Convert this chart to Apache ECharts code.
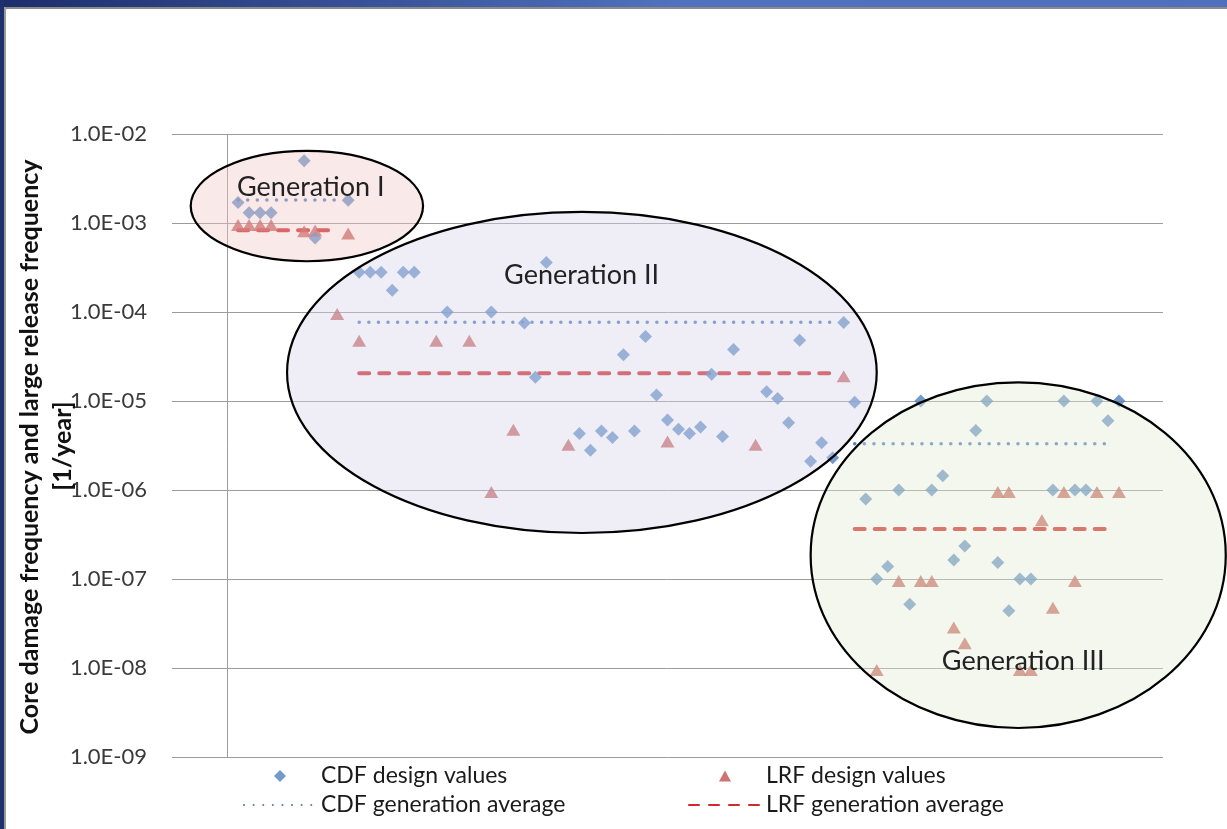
<!DOCTYPE html>
<html>
<head>
<meta charset="utf-8">
<script src="https://cdn.jsdelivr.net/npm/echarts@6/dist/echarts.min.js"></script>
<style>
  html, body { margin: 0; padding: 0; background: #ffffff; }
  #chart { width: 1227px; height: 829px; }
</style>
</head>
<body>
<div id="chart"></div>
<script>
// Reactor design index (horizontal position) and design values in 1/year
const cdfIndex = [1, 2, 3, 4, 7, 8, 11,
  12, 13, 14, 15, 16, 17, 20, 24, 27, 28, 29, 32, 33, 34, 35, 36, 37, 38, 39, 40,
  41, 42, 43, 44, 45, 46, 49, 50, 51, 52, 53, 54, 55, 56, 57, 58,
  59, 60, 61, 62, 63, 64, 65, 66, 67, 68, 69, 70, 71, 72, 73, 75, 76, 77, 78, 79, 80, 81];
const cdfValues = [1.7e-3, 1.3e-3, 1.3e-3, 1.3e-3, 5.0e-3, 6.8e-4, 1.8e-3,
  2.8e-4, 2.8e-4, 2.8e-4, 1.75e-4, 2.8e-4, 2.8e-4, 1.0e-4, 1.0e-4, 7.5e-5, 1.85e-5, 3.6e-4,
  4.3e-6, 2.8e-6, 4.6e-6, 3.9e-6, 3.3e-5, 4.6e-6, 5.3e-5, 1.17e-5, 6.1e-6,
  4.8e-6, 4.3e-6, 5.1e-6, 2.0e-5, 4.0e-6, 3.8e-5, 1.27e-5, 1.07e-5, 5.7e-6, 4.8e-5,
  2.1e-6, 3.4e-6, 2.3e-6, 7.6e-5, 9.7e-6, 7.9e-7,
  1.0e-7, 1.38e-7, 1.0e-6, 5.2e-8, 1.0e-5, 1.0e-6, 1.45e-6, 1.63e-7, 2.35e-7, 4.65e-6,
  1.0e-5, 1.53e-7, 4.4e-8, 1.0e-7, 1.0e-7, 1.0e-6, 1.0e-5, 1.0e-6, 1.0e-6, 1.0e-5, 6.0e-6, 1.0e-5];

const lrfIndex = [1, 2, 3, 4, 7, 8, 10, 11,
  12, 19, 22, 24, 26, 31, 40, 48, 56,
  59, 61, 63, 64, 66, 67, 70, 71, 72, 73, 74, 75, 76, 77, 79, 81];
const lrfValues = [1.0e-3, 1.0e-3, 1.0e-3, 1.0e-3, 8.5e-4, 8.7e-4, 1.0e-4, 8.0e-4,
  5.0e-5, 5.0e-5, 5.0e-5, 1.0e-6, 5.0e-6, 3.4e-6, 3.7e-6, 3.4e-6, 2.0e-5,
  1.0e-8, 1.0e-7, 1.0e-7, 1.0e-7, 3.0e-8, 2.0e-8, 1.0e-6, 1.0e-6, 1.0e-8, 1.0e-8,
  4.8e-7, 5.0e-8, 1.0e-6, 1.0e-7, 1.0e-6, 1.0e-6];

// Generation averages and the index span each average line covers
const generations = ['Generation I', 'Generation II', 'Generation III'];
const avgFrom = [1, 12, 57];
const avgTo = [10, 55, 80];
const cdfAverage = [1.81e-3, 7.65e-5, 3.3e-6];
const lrfAverage = [8.3e-4, 2.05e-5, 3.65e-7];

const yTickLabels = ['1.0E-09', '1.0E-08', '1.0E-07', '1.0E-06', '1.0E-05', '1.0E-04', '1.0E-03', '1.0E-02'];

const FONT = 'Lato, "Liberation Sans", sans-serif';
const BLUE = '#4f81bd';
const RED = '#c0504d';
const RED_LINE = '#d02a2c';

const zip = (xs, ys) => xs.map((x, i) => [x, ys[i]]);

const averageSeries = [];
generations.forEach((g, i) => {
  averageSeries.push({
    name: 'CDF generation average', type: 'line', silent: true, symbol: 'none', z: 2,
    data: [[avgFrom[i], cdfAverage[i]], [avgTo[i], cdfAverage[i]]],
    itemStyle: { color: BLUE },
    lineStyle: { color: BLUE, width: 3.5, type: [0.1, 9.5], cap: 'round' }
  });
  averageSeries.push({
    name: 'LRF generation average', type: 'line', silent: true, symbol: 'none', z: 2,
    data: [[avgFrom[i], lrfAverage[i]], [avgTo[i], lrfAverage[i]]],
    itemStyle: { color: RED_LINE },
    lineStyle: { color: RED_LINE, width: 4, type: [10, 10], cap: 'round' }
  });
});

// Legend keys: a small marker centred in the same 72px slot used by the line keys
const diamondKey = 'path://M0,0L0,0M72,14L72,14M36,0.5L42.5,7L36,13.5L29.5,7Z';
const triangleKey = 'path://M0,0L0,0M72,14L72,14M36,1L42.5,13L29.5,13Z';

const legendText = { fontFamily: FONT, fontSize: 23, color: '#1a1a1a', lineHeight: 24 };
const hiddenMarker = { opacity: 0 };

const option = {
  animation: false,
  backgroundColor: '#ffffff',
  grid: { left: 172, right: 64, top: 134, bottom: 72 },
  xAxis: { type: 'value', min: -5, max: 85, show: false },
  yAxis: {
    type: 'log', logBase: 10, min: 1e-9, max: 1e-2, interval: 1,
    axisLine: { show: false }, axisTick: { show: false },
    splitLine: { show: true, lineStyle: { color: '#9c9c9c', width: 1 } },
    axisLabel: {
      margin: 25, fontFamily: FONT, fontSize: 22, color: '#3a3a3a',
      formatter: v => yTickLabels[Math.round(Math.log10(v)) + 9]
    }
  },
  legend: [
    {
      data: [{ name: 'CDF design values', icon: diamondKey }, { name: 'CDF generation average', itemStyle: hiddenMarker }],
      orient: 'vertical', left: 238, top: 759, itemWidth: 72, itemHeight: 13, itemGap: 5,
      selectedMode: false, textStyle: legendText
    },
    {
      data: [{ name: 'LRF design values', icon: triangleKey }, { name: 'LRF generation average', itemStyle: hiddenMarker }],
      orient: 'vertical', left: 683, top: 759, itemWidth: 72, itemHeight: 13, itemGap: 5,
      selectedMode: false, textStyle: legendText
    }
  ],
  series: [
    ...averageSeries,
    {
      name: 'CDF design values', type: 'scatter', symbol: 'diamond', symbolSize: 13, z: 4,
      itemStyle: { color: BLUE },
      data: zip(cdfIndex, cdfValues),
      markLine: {
        silent: true, symbol: 'none', label: { show: false },
        lineStyle: { color: '#9c9c9c', type: 'solid', width: 1 },
        data: [{ xAxis: 0 }]
      }
    },
    {
      name: 'LRF design values', type: 'scatter', symbol: 'triangle', symbolSize: [14, 12],
      symbolOffset: [0, 2], z: 3,
      itemStyle: { color: RED },
      data: zip(lrfIndex, lrfValues)
    }
  ]
};

const chart = echarts.init(document.getElementById('chart'));
chart.setOption(option);

// Translucent ellipses grouping each generation, placed in data space
const regionSpecs = [
  { x: [-3.3, 17.8], logY: [-2.19, -3.43], fill: 'rgba(240,196,196,0.38)', text: [7.6, -2.596] },
  { x: [5.45, 59.0], logY: [-2.876, -6.483], fill: 'rgba(214,212,234,0.40)', text: [32.2, -3.584] },
  { x: [53.0, 90.7], logY: [-4.79, -8.674], fill: 'rgba(228,234,210,0.40)', text: [72.3, -7.921] }
];
const toPx = (x, lg) => chart.convertToPixel({ gridIndex: 0 }, [x, Math.pow(10, lg)]);

const graphics = [];
regionSpecs.forEach((r) => {
  const a = toPx(r.x[0], r.logY[0]);
  const b = toPx(r.x[1], r.logY[1]);
  graphics.push({
    type: 'ellipse', z: 20, silent: true,
    shape: { cx: (a[0] + b[0]) / 2, cy: (a[1] + b[1]) / 2, rx: Math.abs(b[0] - a[0]) / 2, ry: Math.abs(b[1] - a[1]) / 2 },
    style: { fill: r.fill, stroke: '#000000', lineWidth: 2.2 }
  });
});
regionSpecs.forEach((r, i) => {
  const p = toPx(r.text[0], r.text[1]);
  graphics.push({
    type: 'text', z: 30, silent: true, x: p[0], y: p[1],
    style: { text: generations[i], font: '27px ' + FONT, fill: '#222222', align: 'center', verticalAlign: 'middle' }
  });
});

// Axis title, two lines reading upwards
graphics.push({
  type: 'text', z: 30, silent: true, x: 30, y: 447, rotation: Math.PI / 2,
  style: { text: 'Core damage frequency and large release frequency', font: 'bold 25px ' + FONT, fill: '#111111', align: 'center', verticalAlign: 'middle' }
});
graphics.push({
  type: 'text', z: 30, silent: true, x: 63, y: 446, rotation: Math.PI / 2,
  style: { text: '[1/year]', font: 'bold 25px ' + FONT, fill: '#111111', align: 'center', verticalAlign: 'middle' }
});

// Window frame: gradient title strip and left edge
graphics.push({
  type: 'rect', z: 40, silent: true, shape: { x: 0, y: 0, width: 1227, height: 7 },
  style: { fill: new echarts.graphic.LinearGradient(0, 0, 1, 0, [
    { offset: 0, color: '#1c2d6a' }, { offset: 0.55, color: '#5172be' }, { offset: 1, color: '#5070bd' }
  ]) }
});
graphics.push({ type: 'rect', z: 40, silent: true, shape: { x: 0, y: 7, width: 1227, height: 2 }, style: { fill: '#8c8c8c' } });
graphics.push({ type: 'rect', z: 41, silent: true, shape: { x: 0, y: 0, width: 4, height: 829 }, style: { fill: '#1f316c' } });
graphics.push({ type: 'rect', z: 41, silent: true, shape: { x: 4, y: 7, width: 2, height: 822 }, style: { fill: '#9a9a9a' } });

chart.setOption({ graphic: graphics });
</script>
</body>
</html>
